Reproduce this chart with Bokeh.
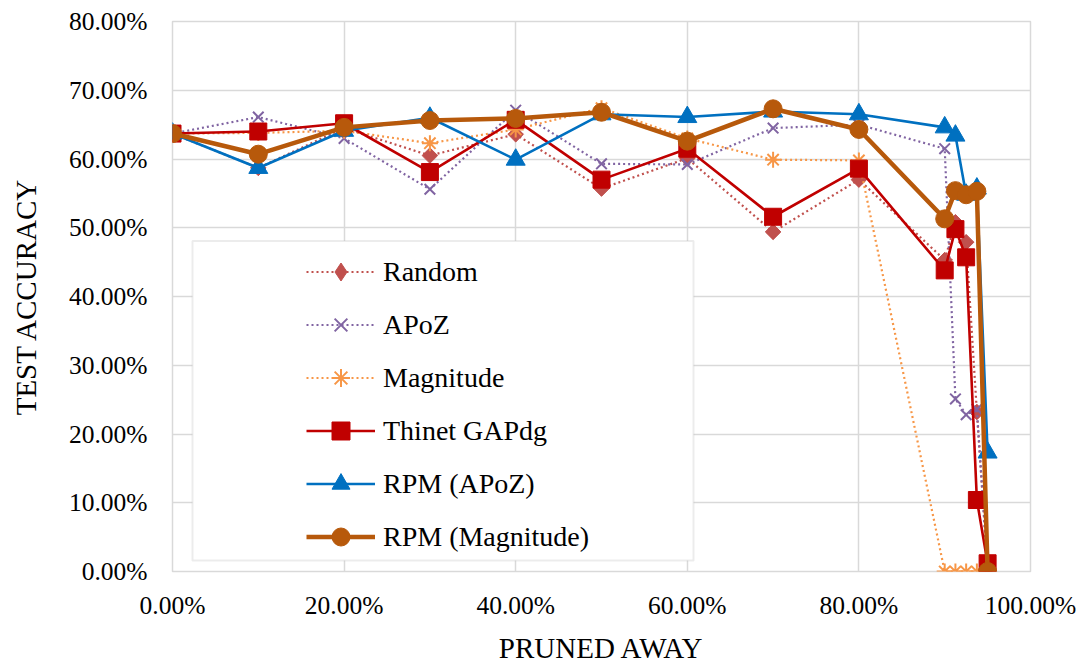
import numpy as np
from bokeh.plotting import figure
from bokeh.models import (Range1d, FixedTicker, NumeralTickFormatter, Legend,
                          LegendItem, BoxAnnotation)
from bokeh.embed import file_html
from bokeh.resources import INLINE

# ---------------- data (fractions) ----------------
pruned = [0.0, 0.10, 0.20, 0.30, 0.40, 0.50, 0.60, 0.70, 0.80,
          0.90, 0.9125, 0.925, 0.9375, 0.95]

random_acc = [0.637, 0.587, 0.645, 0.605, 0.636, 0.557, 0.601, 0.494, 0.570,
              0.453, 0.508, 0.479, 0.232, 0.005]
apoz_acc = [0.637, 0.661, 0.630, 0.556, 0.671, 0.593, 0.592, 0.645, 0.650,
            0.615, 0.251, 0.228, 0.236, 0.0]
magnitude_acc = [0.637, 0.638, 0.641, 0.623, 0.643, 0.674, 0.630, 0.599, 0.598,
                 0.0, 0.0, 0.0, 0.0, 0.0]
thinet_acc = [0.637, 0.640, 0.652, 0.581, 0.657, 0.570, 0.615, 0.516, 0.586,
              0.438, 0.498, 0.457, 0.104, 0.012]
rpm_apoz_acc = [0.637, 0.587, 0.641, 0.660, 0.599, 0.665, 0.661, 0.669, 0.665,
                0.646, 0.634, 0.548, 0.557, 0.173]
rpm_mag_acc = [0.637, 0.607, 0.646, 0.656, 0.659, 0.668, 0.626, 0.673, 0.643,
               0.513, 0.554, 0.548, 0.553, 0.0]

x_ticks = [0.0, 0.2, 0.4, 0.6, 0.8, 1.0]
y_ticks = [0.0, 0.1, 0.2, 0.3, 0.4, 0.5, 0.6, 0.7, 0.8]

FONT = "Liberation Serif"
W, H = 1092, 666
FL, FR, FT, FB = 172, 62, 21, 94  # frame borders

p = figure(width=W, height=H, output_backend="svg", toolbar_location=None,
           x_range=Range1d(0, 1.0), y_range=Range1d(0, 0.8),
           min_border_left=FL, min_border_right=FR,
           min_border_top=FT, min_border_bottom=FB)

p.outline_line_color = "#d9d9d9"
p.outline_line_width = 1.5
p.background_fill_color = "white"
p.border_fill_color = "white"

for ax in (p.xaxis[0], p.yaxis[0]):
    ax.axis_line_color = None
    ax.major_tick_line_color = None
    ax.minor_tick_line_color = None
    ax.major_tick_out = 0
    ax.major_tick_in = 0
    ax.minor_tick_out = 0
    ax.minor_tick_in = 0
    ax.formatter = NumeralTickFormatter(format="0.00%")
    ax.major_label_text_font = FONT
    ax.major_label_text_font_style = "normal"
    ax.major_label_text_font_size = "25.5px"
    ax.major_label_text_color = "black"
    ax.axis_label_text_font = FONT
    ax.axis_label_text_font_size = "29px"
    ax.axis_label_text_font_style = "normal"
    ax.axis_label_text_color = "black"

p.xaxis.ticker = FixedTicker(ticks=x_ticks)
p.yaxis.ticker = FixedTicker(ticks=y_ticks)
p.xaxis.axis_label = "PRUNED AWAY"
p.yaxis.axis_label = "TEST ACCURACY"
p.xaxis.major_label_standoff = 19
p.xaxis.axis_label_standoff = 9
p.yaxis.major_label_standoff = 25
p.yaxis.axis_label_standoff = 24

p.xgrid.ticker = FixedTicker(ticks=x_ticks)
p.ygrid.ticker = FixedTicker(ticks=y_ticks)
p.grid.grid_line_color = "#d9d9d9"
p.grid.grid_line_width = 1.5

# legend frame (white box), placed in pixel terms relative to the frame
fw = W - FL - FR
fh = H - FT - FB
box = BoxAnnotation(left=(192 - FL) / fw * 1.0, right=(693 - FL) / fw * 1.0,
                    bottom=(FT + fh - 561) / fh * 0.8, top=(FT + fh - 241) / fh * 0.8,
                    fill_color="white", fill_alpha=1.0,
                    line_color="#bfbfbf", line_width=2)
p.add_layout(box)

DOT = "2 3"
items = []

r1 = p.line(pruned, random_acc, line_color="#C0504D", line_width=2.2, line_dash=DOT)
s1 = p.scatter(pruned, random_acc, marker="square", angle=np.pi / 4, size=11,
               fill_color="#C0504D", line_color="#C0504D")
# diamond marker on the same points (sits inside the rotated square); used for the legend
s1_leg = p.scatter(pruned, random_acc, marker="diamond", size=14,
                   fill_color="#C0504D", line_color="#C0504D")
items.append(LegendItem(label="Random", renderers=[r1, s1_leg]))

r2 = p.line(pruned, apoz_acc, line_color="#8064A2", line_width=2.2, line_dash=DOT)
s2 = p.scatter(pruned, apoz_acc, marker="x", size=15, line_color="#8064A2", line_width=2)
items.append(LegendItem(label="APoZ", renderers=[r2, s2]))

r3 = p.line(pruned, magnitude_acc, line_color="#F79646", line_width=2.2, line_dash=DOT)
s3 = p.scatter(pruned, magnitude_acc, marker="asterisk", size=16, line_color="#F79646", line_width=2)
items.append(LegendItem(label="Magnitude", renderers=[r3, s3]))

r4 = p.line(pruned, thinet_acc, line_color="#C00000", line_width=2.6)
s4 = p.scatter(pruned, thinet_acc, marker="square", size=17,
               fill_color="#C00000", line_color="#C00000")
items.append(LegendItem(label="Thinet GAPdg", renderers=[r4, s4]))

r5 = p.line(pruned, rpm_apoz_acc, line_color="#0070C0", line_width=2.6)
s5 = p.scatter(pruned, rpm_apoz_acc, marker="triangle", size=19,
               fill_color="#0070C0", line_color="#0070C0")
items.append(LegendItem(label="RPM (APoZ)", renderers=[r5, s5]))

r6 = p.line(pruned, rpm_mag_acc, line_color="#B7590B", line_width=4.5)
s6 = p.scatter(pruned, rpm_mag_acc, marker="circle", size=18,
               fill_color="#B7590B", line_color="#B7590B")
items.append(LegendItem(label="RPM (Magnitude)", renderers=[r6, s6]))

legend = Legend(items=items, location=(134, 12),
                background_fill_alpha=0, border_line_color=None,
                padding=4, spacing=8, glyph_width=69, glyph_height=45,
                label_standoff=8, label_text_font=FONT,
                label_text_font_style="normal",
                label_text_font_size="28px", label_text_color="black",
                label_height=45)
p.add_layout(legend)

open("out.html", "w").write(file_html(p, INLINE))
